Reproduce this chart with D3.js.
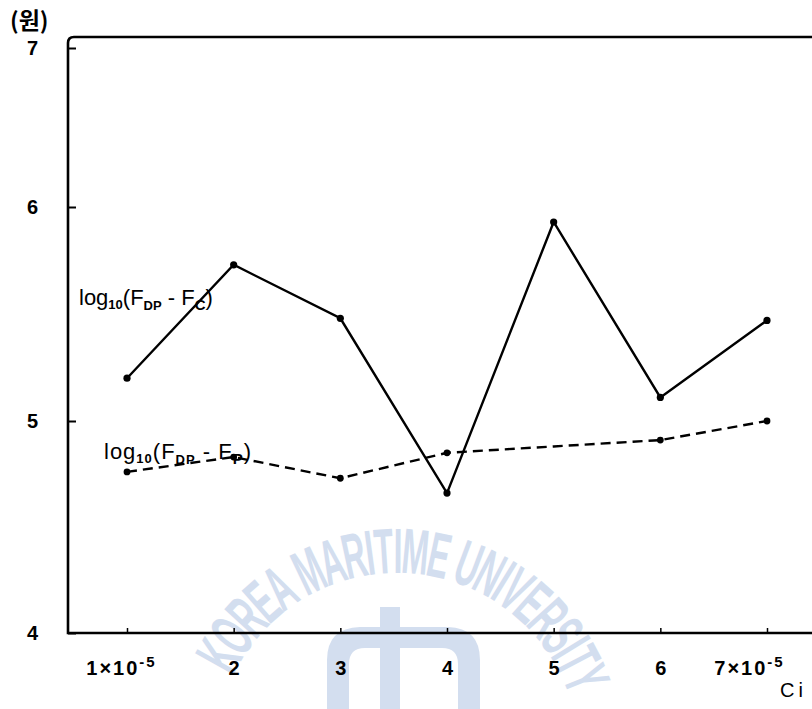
<!DOCTYPE html>
<html>
<head>
<meta charset="utf-8">
<script src="https://cdn.jsdelivr.net/npm/d3@7/dist/d3.min.js"></script>
<style>
  html, body { margin: 0; padding: 0; background: #fff; }
  svg { display: block; }
</style>
</head>
<body>
<svg id="chart" width="812" height="709"></svg>
<script>
// ---- data ----
const xValues = [1, 2, 3, 4, 5, 6, 7];
const xTickLabels = ["1×10", "2", "3", "4", "5", "6", "7×10"];
const xTickExponents = ["-5", "", "", "", "", "", "-5"];
const yTicks = [4, 5, 6, 7];
const yTickLabels = ["4", "5", "6", "7"];
const seriesFC = [5.20, 5.73, 5.48, 4.66, 5.93, 5.11, 5.47];   // log10(F_DP - F_C), solid
const seriesFP = [4.76, 4.83, 4.73, 4.85, 4.88, 4.91, 5.00];   // log10(F_DP - F_P), dashed
const unitLabel = "(원)";
const xAxisTitle = "Ci";
const watermark = "KOREA MARITIME UNIVERSITY";

(function () {
const svg = d3.select("#chart");
const mLeft = 68, mTop = 37, mBottom = 633, mRight = 812;

// hand-drawn original: unequal spacing between y gridlines
const y = d3.scaleLinear().domain([4, 5, 6, 7]).range([633, 421, 207, 48]);
const x = d3.scaleLinear().domain([1, 7]).range([127, 767]);

// ---- watermark (scan stamp) ----
const wm = svg.append("g").attr("fill", "#d3deef");
const cx = 397, cy = 755, rb = 182, rMid = 205, sx = 0.5, fs = 64;
const wmFont = "'Liberation Sans', Arial, sans-serif";
const chars = watermark.split("");
const probe = svg.append("text").attr("font-family", wmFont).attr("font-weight", "bold")
  .attr("font-size", fs).style("white-space", "pre");
const widths = chars.map(c => {
  probe.text(c === " " ? "\u00A0" : c);
  const w = probe.node().getComputedTextLength();
  return (w > 0 ? w : fs * 0.278) * sx;
});
probe.remove();
const total = d3.sum(widths);
let acc = 0;
const centers = widths.map(w => { const c = acc + w / 2; acc += w; return c; });
const centerDeg = 3.5;
wm.selectAll("text.wm").data(chars).enter().append("text")
  .attr("class", "wm")
  .attr("font-family", wmFont)
  .attr("font-weight", "bold").attr("font-size", fs)
  .attr("text-anchor", "middle")
  .attr("transform", (c, i) => {
    const deg = centerDeg + (centers[i] - total / 2) / rMid * 180 / Math.PI;
    const a = deg * Math.PI / 180;
    const px = cx + rb * Math.sin(a), py = cy - rb * Math.cos(a);
    return `translate(${px},${py}) rotate(${deg}) scale(${sx},1)`;
  })
  .text(c => c === " " ? "" : c);
wm.append("rect").attr("x", 380).attr("y", 607).attr("width", 20).attr("height", 110);
wm.append("path")
  .attr("d", "M327,709 L327,660 Q327,628 360,627 L448,627 Q480,628 480,660 L480,709 L458,709 L458,664 Q458,648 442,648 L365,648 Q349,648 349,664 L349,709 Z");

// ---- frame / axes ----
svg.append("path")
  .attr("d", `M${mRight},${mTop} L${mLeft + 6},${mTop} Q${mLeft},${mTop} ${mLeft},${mTop + 6} L${mLeft},${mBottom} L${mRight},${mBottom}`)
  .attr("fill", "none").attr("stroke", "#000").attr("stroke-width", 2.6);

const yAxis = svg.append("g").attr("transform", `translate(${mLeft},0)`)
  .call(d3.axisLeft(y).tickValues(yTicks).tickSize(-8).tickPadding(30)
    .tickFormat((d, i) => yTickLabels[i]));
yAxis.select(".domain").remove();
yAxis.selectAll("line").attr("stroke", "#000").attr("stroke-width", 2);
yAxis.selectAll("text")
  .attr("font-family", "'Liberation Sans', Arial, sans-serif")
  .attr("font-weight", "bold").attr("font-size", 20).attr("fill", "#000");

const xAxis = svg.append("g").attr("transform", `translate(0,${mBottom})`)
  .call(d3.axisBottom(x).tickValues(xValues).tickSize(-5).tickPadding(28)
    .tickFormat((d, i) => xTickLabels[i]));
xAxis.select(".domain").remove();
xAxis.selectAll("line").attr("stroke", "#000").attr("stroke-width", 1.5);
xAxis.selectAll(".tick text")
  .attr("font-family", "'Liberation Sans', Arial, sans-serif")
  .attr("font-weight", "bold").attr("font-size", 20).attr("fill", "#000")
  .attr("letter-spacing", (d, i) => xTickExponents[i] ? 2 : 0)
  .attr("dx", d => d === 1 ? -6 : (d === 7 ? -18 : 0))
  .each(function (d, i) {
    if (xTickExponents[i]) {
      d3.select(this).append("tspan").attr("dy", -8).attr("font-size", 15).text(xTickExponents[i]);
    }
  });

svg.append("text").attr("x", 10).attr("y", 29)
  .attr("font-family", "'Noto Sans CJK KR', sans-serif")
  .attr("font-weight", "bold").attr("font-size", 23).text(unitLabel);
svg.append("text").attr("x", 780).attr("y", 697)
  .attr("font-family", "'Liberation Sans', Arial, sans-serif")
  .attr("font-size", 20).attr("letter-spacing", 4).text(xAxisTitle);

// ---- series ----
const line = d3.line().x((d, i) => x(xValues[i])).y(d => y(d));

svg.append("path").datum(seriesFC).attr("d", line)
  .attr("fill", "none").attr("stroke", "#000").attr("stroke-width", 2.4);
svg.selectAll(".dotFC").data(seriesFC).enter().append("circle")
  .attr("cx", (d, i) => x(xValues[i])).attr("cy", d => y(d)).attr("r", 3.6).attr("fill", "#000");

svg.append("path").datum(seriesFP).attr("d", line)
  .attr("fill", "none").attr("stroke", "#000").attr("stroke-width", 2.4)
  .attr("stroke-dasharray", "10,6");
const fpPts = seriesFP.map((v, i) => ({ v, xv: xValues[i], i })).filter(p => p.i !== 4);
svg.selectAll(".dotFP").data(fpPts).enter().append("circle")
  .attr("cx", p => x(p.xv)).attr("cy", p => y(p.v)).attr("r", 3.4).attr("fill", "#000");

// ---- series labels ----
function seriesLabel(px, py, sub, spacing) {
  const t = svg.append("text").attr("x", px).attr("y", py)
    .attr("font-family", "'Liberation Sans', Arial, sans-serif")
    .attr("font-size", 22).attr("fill", "#000").attr("letter-spacing", spacing);
  t.append("tspan").text("log");
  t.append("tspan").attr("font-size", 13).attr("font-weight", "bold").attr("dy", 4).text("10");
  t.append("tspan").attr("dy", -4).text("(F");
  t.append("tspan").attr("font-size", 13).attr("font-weight", "bold").attr("dy", 5).text("DP");
  t.append("tspan").attr("dy", -5).text(" - F");
  t.append("tspan").attr("font-size", 15).attr("font-weight", "bold").attr("dy", 5).text(sub);
  t.append("tspan").attr("dy", -5).text(")");
}
seriesLabel(79, 305, "C", 0);
seriesLabel(104, 459, "P", 1);
})();
</script>
</body>
</html>
